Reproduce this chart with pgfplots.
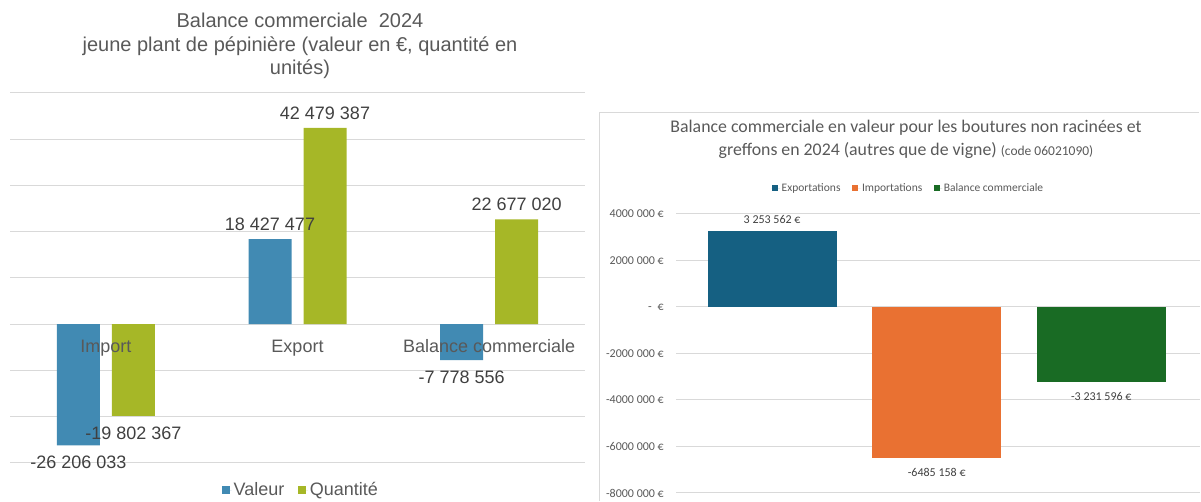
\documentclass[border=0pt]{standalone}
\usepackage{pgfplots}
\pgfplotsset{compat=1.18}
\usepackage{pgfplotstable}
\usepackage{fontspec}
\setmainfont{Liberation Sans}
\newfontfamily\carlito{Carlito}
\definecolor{txtL}{HTML}{595959}
\definecolor{txtD}{HTML}{404040}
\definecolor{gridL}{HTML}{D9D9D9}
\definecolor{valeur}{HTML}{418AB3}
\definecolor{quant}{HTML}{A6B727}
\definecolor{expo}{HTML}{156082}
\definecolor{impo}{HTML}{E97132}
\definecolor{bal}{HTML}{196B24}

\pgfplotstableread[col sep=comma]{
x,y,label
0,-26206033,-26 206 033
1,18427477,18 427 477
2,-7778556,-7 778 556
}\valeurtab
\pgfplotstableread[col sep=comma]{
x,y,label
0,-19802367,-19 802 367
1,42479387,42 479 387
2,22677020,22 677 020
}\quanttab

\pgfplotsset{
  signlabels/.style n args={2}{
    visualization depends on={rawy \as \rawy},
    every node near coord/.append style={
      /utils/exec={\pgfmathfloatparsenumber{\rawy}%
        \pgfmathfloatifflags{\pgfmathresult}{-}%
          {\def\myanchor{north}\def\mysep{#2}}%
          {\def\myanchor{south}\def\mysep{#1}}},
      anchor=\myanchor, inner ysep=\mysep},
  },
}

\begin{document}
\begin{tikzpicture}[x=1bp,y=1bp]
\path (0,0) rectangle (1201,501);
% ---------- left chart title
\begin{scope}[every node/.style={text=txtL, font=\fontsize{20bp}{23bp}\selectfont, anchor=base, inner sep=0pt}]
\node at (300,473) {Balance commerciale\ \ 2024};
\node at (300,449.5) {jeune plant de pépinière (valeur en €, quantité en};
\node at (300,426) {unités)};
\end{scope}

\begin{axis}[
  at={(10bp,38bp)}, anchor=south west, scale only axis,
  width=575bp, height=370bp,
  xmin=-0.5, xmax=2.5, ymin=-30000000, ymax=50000000,
  axis line style={draw=none},
  xtick=\empty,
  ytick={-30000000,-20000000,-10000000,0,10000000,20000000,30000000,40000000,50000000},
  yticklabels={},
  major tick length=0pt,
  ymajorgrids, grid style={gridL, line width=1bp},
  scaled y ticks=false,
  clip=false,
  ybar, bar width=43bp,
  point meta=explicit symbolic,
  nodes near coords={\pgfplotspointmeta},
  nodes near coords align={vertical},
  every node near coord/.append style={font=\fontsize{18bp}{21bp}\selectfont, text=txtD, inner xsep=0pt},
  signlabels={8bp}{10.5bp},
  legend style={at={(0.506,-0.073)}, anchor=center, draw=none, fill=none,
    font=\fontsize{18bp}{21bp}\selectfont, text=txtL, legend columns=2,
    /tikz/every even column/.append style={column sep=12bp},
    inner sep=0pt, nodes={inner sep=2bp}},
  legend image code/.code={\fill[#1] (0bp,-4bp) rectangle (7.5bp,4bp); \path (0bp,0bp) -- (9.5bp,0bp);},
]
\addplot[fill=valeur, draw=none, bar shift=-27.5bp] table[x=x, y=y, meta=label] {\valeurtab};
\addlegendentry{Valeur}
\addplot[fill=quant, draw=none, bar shift=27.5bp] table[x=x, y=y, meta=label] {\quanttab};
\addlegendentry{Quantité}
\begin{scope}[every node/.style={font=\fontsize{18bp}{21bp}\selectfont, text=txtL, anchor=base, inner sep=0pt}]
\node at (axis cs:0,0) [yshift=-28.5bp] {Import};
\node at (axis cs:1,0) [yshift=-28.5bp] {Export};
\node at (axis cs:2,0) [yshift=-28.5bp] {Balance commerciale};
\end{scope}
\end{axis}

% ---------- right chart frame
\draw[gridL, line width=1bp] (599,0) -- (599,388) -- (1199,388);
% title
\begin{scope}[every node/.style={text=txtL, anchor=base, inner sep=0pt}]
\node[font=\carlito\fontsize{17.8bp}{20bp}\selectfont] at (906,368.5) {Balance commerciale en valeur pour les boutures non racinées et};
\node[font=\carlito\fontsize{17.8bp}{20bp}\selectfont] at (906,345.5) {greffons en 2024 (autres que de vigne) {\fontsize{13.5bp}{15bp}\selectfont(code 06021090)}};
\end{scope}

\begin{axis}[
  at={(676bp,8bp)}, anchor=south west, scale only axis,
  width=524bp, height=279bp,
  xmin=-0.584, xmax=2.6, ymin=-8000000, ymax=4000000,
  axis line style={draw=none},
  xtick=\empty,
  ytick={-8000000,-6000000,-4000000,-2000000,0,2000000,4000000},
  yticklabels={-8000 000 €,-6000 000 €,-4000 000 €,-2000 000 €,-\hspace{6bp}€,2000 000 €,4000 000 €},
  yticklabel style={font=\carlito\fontsize{12bp}{14bp}\selectfont, text=txtL, inner sep=0pt, anchor=east},
  yticklabel shift=12bp,
  major tick length=0pt,
  ymajorgrids, grid style={gridL, line width=1bp},
  scaled y ticks=false,
  clip=false,
  ybar, bar width=129bp,
  point meta=explicit symbolic,
  nodes near coords={\pgfplotspointmeta},
  nodes near coords align={vertical},
  every node near coord/.append style={font=\carlito\fontsize{12bp}{14bp}\selectfont, text=txtD, inner xsep=0pt},
  signlabels={8bp}{10bp},
  legend style={at={(0.443,1.093)}, anchor=center, draw=none, fill=none,
    font=\carlito\fontsize{11.5bp}{13bp}\selectfont, text=txtL, legend columns=3,
    /tikz/every even column/.append style={column sep=10bp},
    inner sep=0pt, nodes={inner sep=1.5bp}},
  legend image code/.code={\fill[#1] (0bp,-3bp) rectangle (6bp,3bp); \path (0bp,0bp) -- (8.5bp,0bp);},
]
\addplot[fill=expo, draw=none, bar shift=0pt] table[x=x, y=y, meta=label, col sep=comma] {
x,y,label
0,3253562,3 253 562 €
};
\addlegendentry{Exportations}
\addplot[fill=impo, draw=none, bar shift=0pt] table[x=x, y=y, meta=label, col sep=comma] {
x,y,label
1,-6485158,-6485 158 €
};
\addlegendentry{Importations}
\addplot[fill=bal, draw=none, bar shift=0pt] table[x=x, y=y, meta=label, col sep=comma] {
x,y,label
2,-3231596,-3 231 596 €
};
\addlegendentry{Balance commerciale}
\end{axis}
\end{tikzpicture}
\end{document}
